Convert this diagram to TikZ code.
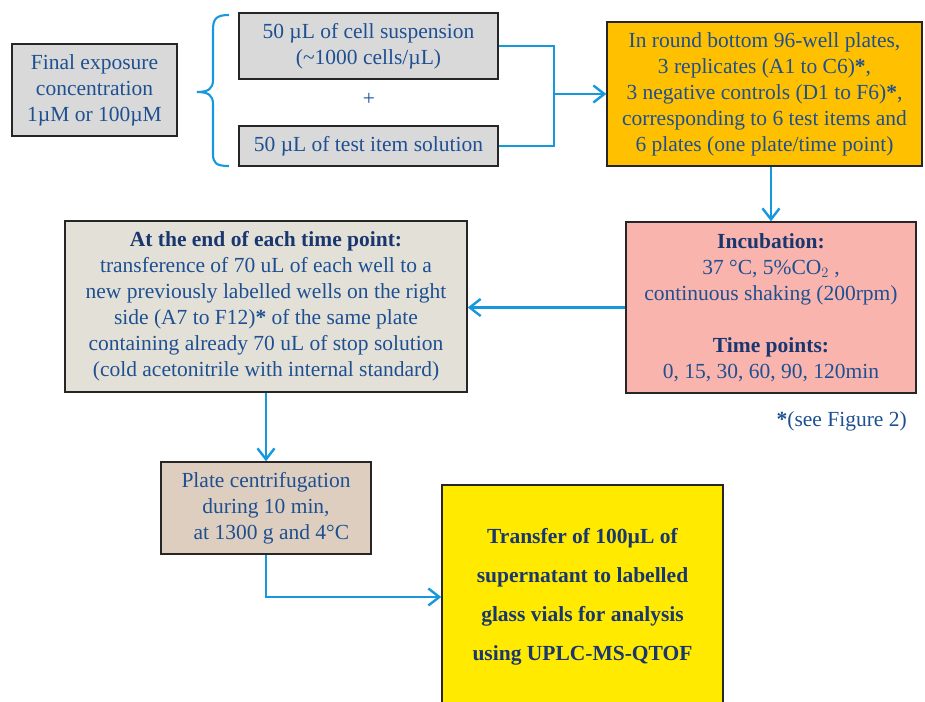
\documentclass[tikz,border=0pt]{standalone}
\usepackage{fontspec}
\setmainfont{Liberation Serif}
\usetikzlibrary{arrows.meta}
\definecolor{txt}{RGB}{30,80,145}
\definecolor{hdr}{RGB}{25,55,110}
\definecolor{arr}{RGB}{22,152,220}
\definecolor{greyA}{RGB}{217,217,217}
\definecolor{orangeA}{RGB}{255,192,0}
\definecolor{pinkA}{RGB}{250,180,174}
\definecolor{beigeA}{RGB}{227,224,216}
\definecolor{tanA}{RGB}{222,206,191}
\definecolor{yellowA}{RGB}{255,234,0}
\begin{document}
\begin{tikzpicture}[x=1pt,y=-1pt,
 box/.style={draw=black!85, line width=1.4pt, text=txt, align=center, inner sep=0pt, font=\fontsize{21.5}{26}\selectfont},
 conn/.style={draw=arr, line width=2.1pt},
 arrowc/.style={conn, -{Straight Barb[length=11pt,width=17pt,line width=2.4pt]}},
 lbl/.style={text=txt, inner sep=0pt, font=\fontsize{21.5}{26}\selectfont}]
\useasboundingbox (0,0) rectangle (925,701);

\node[box, fill=greyA, minimum width=165pt, minimum height=92pt] (fin) at (94.5,90)
  {Final exposure\\concentration\\1µM or 100µM};

\node[box, fill=greyA, minimum width=259pt, minimum height=66pt] (cell) at (368.5,46)
  {50 µL of cell suspension\\(\textasciitilde1000 cells/µL)};
\node[lbl] (plus) at (369,99) {+};
\node[box, fill=greyA, minimum width=259pt, minimum height=40pt] (test) at (368.5,146)
  {50 µL of test item solution};

\node[box, fill=orangeA, minimum width=315pt, minimum height=144pt] (orange) at (764.5,94)
  {In round bottom 96-well  plates,\\3 replicates (A1 to C6)\textbf{*},\\3 negative controls (D1 to F6)\textbf{*},\\corresponding to 6 test items and\\6 plates (one plate/time point)};

\node[box, fill=pinkA, minimum width=290pt, minimum height=171pt] (pink) at (771,307.5)
  {\textcolor{hdr}{\textbf{Incubation:}}\\37 °C, 5\%CO$_2$ ,\\continuous shaking (200rpm)\\[26pt]\textcolor{hdr}{\textbf{Time points:}}\\0, 15, 30, 60, 90, 120min};

\node[box, fill=beigeA, minimum width=402pt, minimum height=171pt] (grey) at (266,306.5)
  {\textcolor{hdr}{\textbf{At the end of each time point:}}\\transference of 70 uL of each well to a\\new previously labelled wells on the right\\side (A7 to F12)\textbf{*} of the same plate\\containing already 70 uL of stop solution\\(cold acetonitrile with internal standard)};

\node[lbl, anchor=east] (note) at (907,421) {\textbf{*}(see Figure 2)};

\node[box, fill=tanA, minimum width=210pt, minimum height=92pt] (cent) at (266,508)
  {Plate centrifugation\\during 10 min,\\\ \ at 1300 g and 4°C};

\node[box, fill=yellowA, text=hdr, font=\fontsize{21.5}{39}\selectfont\bfseries, minimum width=281pt, minimum height=224pt] (yel) at (582.5,597)
  {Transfer of 100µL of\\supernatant to labelled\\glass vials for analysis\\using UPLC-MS-QTOF};

% brace
\draw[conn] (229,15) .. controls (216,15) and (213,19) .. (213,30) -- (213,80)
  .. controls (213,89) and (208,92) .. (197,92)
  .. controls (208,92) and (213,95) .. (213,104) -- (213,154)
  .. controls (213,163) and (216,166) .. (229,166);

% connectors
\coordinate (j) at (554,94);
\draw[conn] (cell.east) -| (j) |- (test.east);
\draw[arrowc] (j) -- (orange.west);
\draw[arrowc] (pink.north |- orange.south) -- (pink.north);
\draw[arrowc] (pink.west) -- (pink.west -| grey.east);
\draw[arrowc] (grey.south) -- (cent.north);
\draw[arrowc] (cent.south) |- (yel.west);
\end{tikzpicture}
\end{document}
